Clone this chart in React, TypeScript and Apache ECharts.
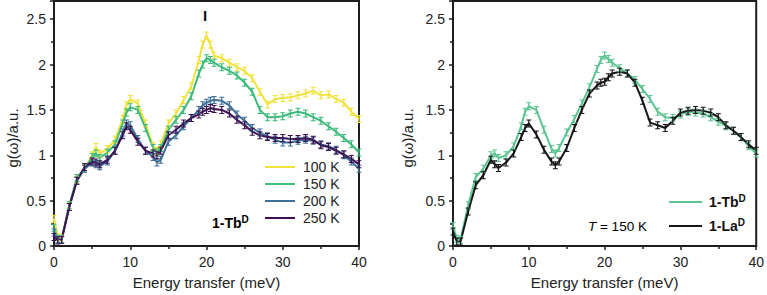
import React, { useEffect, useRef } from "react";
import * as echarts from "echarts";

const energy = [0, 0.5, 1, 2, 3, 4, 5, 5.5, 6, 7, 8, 9, 9.5, 10, 11, 12, 13, 13.5, 14, 15, 16, 17, 18, 19, 19.5, 20, 20.5, 21, 22, 23, 24, 25, 26, 27, 28, 29, 30, 31, 32, 33, 34, 35, 36, 37, 38, 39, 40];

const tb100K = [0.3, 0.1, 0.08, 0.45, 0.73, 0.85, 1.0, 1.09, 1.02, 1.07, 1.17, 1.4, 1.55, 1.62, 1.57, 1.35, 1.1, 1.05, 1.12, 1.35, 1.46, 1.61, 1.76, 2.05, 2.22, 2.32, 2.22, 2.1, 2.07, 2.02, 1.97, 1.93, 1.85, 1.7, 1.56, 1.62, 1.63, 1.64, 1.66, 1.68, 1.71, 1.66, 1.67, 1.62, 1.58, 1.48, 1.4];
const tb150K = [0.2, 0.08, 0.07, 0.45, 0.75, 0.85, 0.98, 1.02, 0.97, 1.03, 1.12, 1.35, 1.47, 1.53, 1.5, 1.3, 1.08, 1.03, 1.08, 1.28, 1.39, 1.5, 1.65, 1.9, 2.0, 2.07, 2.05, 2.02, 1.97, 1.93, 1.88, 1.8, 1.7, 1.5, 1.42, 1.42, 1.43, 1.46, 1.48, 1.46, 1.42, 1.38, 1.32, 1.26, 1.19, 1.12, 1.03];
const tb200K = [0.15, 0.07, 0.07, 0.43, 0.72, 0.85, 0.92, 0.9, 0.88, 0.93, 1.05, 1.25, 1.35, 1.33, 1.18, 1.05, 0.98, 0.92, 0.95, 1.15, 1.22, 1.32, 1.41, 1.5, 1.55, 1.58, 1.6, 1.61, 1.6, 1.55, 1.45, 1.38, 1.3, 1.25, 1.21, 1.17, 1.14, 1.14, 1.16, 1.17, 1.16, 1.12, 1.1, 1.06, 1.0, 0.93, 0.85];
const tb250K = [0.1, 0.06, 0.07, 0.43, 0.72, 0.87, 0.93, 0.92, 0.9, 0.95, 1.05, 1.22, 1.32, 1.28, 1.15, 1.05, 1.02, 1.0, 1.05, 1.22, 1.28, 1.35, 1.41, 1.45, 1.48, 1.5, 1.52, 1.51, 1.5, 1.46, 1.39, 1.33, 1.26, 1.22, 1.2, 1.19, 1.19, 1.18, 1.18, 1.19, 1.17, 1.11, 1.09, 1.05, 1.01, 0.96, 0.9];

const tbAt150K = [0.22, 0.08, 0.07, 0.45, 0.76, 0.85, 1.0, 1.02, 0.97, 1.0, 1.1, 1.32, 1.48, 1.54, 1.5, 1.28, 1.07, 1.02, 1.08, 1.25, 1.4, 1.57, 1.75, 1.95, 2.05, 2.1, 2.06, 2.02, 1.96, 1.9, 1.83, 1.73, 1.62, 1.48, 1.42, 1.41, 1.45, 1.48, 1.47, 1.46, 1.42, 1.37, 1.32, 1.27, 1.2, 1.1, 1.02];
const laAt150K = [0.16, 0.05, 0.05, 0.38, 0.67, 0.78, 0.95, 0.9, 0.86, 0.92, 1.02, 1.2, 1.3, 1.35, 1.23, 1.06, 0.93, 0.89, 0.93, 1.08, 1.3, 1.5, 1.68, 1.77, 1.8, 1.81, 1.86, 1.9, 1.92, 1.9, 1.8, 1.6, 1.36, 1.33, 1.3, 1.38, 1.47, 1.49, 1.5, 1.49, 1.47, 1.42, 1.33, 1.27, 1.2, 1.12, 1.05];

const leftNames = ["100 K", "150 K", "200 K", "250 K"];
const rightNames = ["1-Tb^D", "1-La^D"];
const xTicks = { min: 0, max: 40, interval: 10 };
const yTicks = { min: 0, max: 2.7, interval: 0.5 };

const FONT = "Liberation Sans, Arial, Helvetica, sans-serif";
const AX = "#1e1e1e";
const ERR = "path://M0,0H4V1H2.5V7H4V8H0V7H1.5V1H0Z";

function pairs(ys: number[]) {
  return energy.map((e, i) => [e, ys[i]]);
}

function mkSeries(name: string, ys: number[], color: string, idx: number) {
  return {
    type: "line",
    name,
    xAxisIndex: idx,
    yAxisIndex: idx,
    data: pairs(ys),
    symbol: ERR,
    symbolSize: [5, 8],
    showSymbol: true,
    lineStyle: { color, width: 2 },
    itemStyle: { color },
    z: 3,
  };
}

function xAxis(idx: number) {
  return {
    type: "value",
    gridIndex: idx,
    min: xTicks.min,
    max: xTicks.max,
    interval: xTicks.interval,
    axisLine: { show: true, lineStyle: { color: AX, width: 2 } },
    axisTick: { show: true, length: 4, lineStyle: { color: AX, width: 1.5 } },
    minorTick: { show: true, splitNumber: 2, length: 3, lineStyle: { color: AX, width: 1.5 } },
    splitLine: { show: false },
    axisLabel: { color: "#222", fontFamily: FONT, fontSize: 14, margin: 9 },
    name: "Energy transfer (meV)",
    nameLocation: "middle",
    nameGap: 29,
    nameTextStyle: { color: "#222", fontFamily: FONT, fontSize: 15 },
  };
}

function yAxis(idx: number) {
  return {
    type: "value",
    gridIndex: idx,
    min: yTicks.min,
    max: yTicks.max,
    interval: yTicks.interval,
    axisLine: { show: true, lineStyle: { color: AX, width: 2 } },
    axisTick: { show: true, length: 4, lineStyle: { color: AX, width: 1.5 } },
    minorTick: { show: true, splitNumber: 2, length: 3, lineStyle: { color: AX, width: 1.5 } },
    splitLine: { show: false },
    axisLabel: { color: "#222", fontFamily: FONT, fontSize: 14, margin: 8, showMaxLabel: false },
  };
}

const supRich = {
  b: { fontFamily: FONT, fontSize: 14, fontWeight: "bold", color: "#111" },
  sup: { fontFamily: FONT, fontSize: 10, fontWeight: "bold", color: "#111", verticalAlign: "bottom", padding: [0, 0, 8, 0] },
};

function fmtSup(name: string) {
  const [base, sup] = name.split("^");
  return "{b|" + base + "}{sup|" + sup + "}";
}

export default function App() {
  const ref = useRef<HTMLDivElement>(null);
  useEffect(() => {
    if (!ref.current) return;
    const chart = echarts.init(ref.current, null, { renderer: "svg" });
    const option = {
      animation: false,
      backgroundColor: "#fff",
      grid: [
        { left: 54, top: 1, width: 305, height: 245, show: true, borderColor: AX, borderWidth: 2, backgroundColor: "transparent" },
        { left: 453, top: 1, width: 307, height: 245, show: true, borderColor: AX, borderWidth: 2, backgroundColor: "transparent" },
      ],
      xAxis: [xAxis(0), xAxis(1)],
      yAxis: [yAxis(0), yAxis(1)],
      legend: [
        {
          orient: "vertical",
          left: 265,
          top: 160,
          padding: 0,
          itemGap: 3,
          itemWidth: 30,
          itemHeight: 2,
          icon: "rect",
          data: leftNames,
          textStyle: { fontFamily: FONT, fontSize: 14, color: "#222", padding: [0, 0, 0, 3] },
        },
        {
          orient: "vertical",
          left: 669,
          top: 193,
          padding: 0,
          itemGap: 8,
          itemWidth: 33,
          itemHeight: 2,
          icon: "rect",
          data: rightNames,
          formatter: (n: string) => fmtSup(n),
          textStyle: { padding: [0, 0, 0, 2], rich: supRich },
        },
      ],
      series: [
        mkSeries(leftNames[0], tb100K, "#f1e23c", 0),
        mkSeries(leftNames[1], tb150K, "#3dba7c", 0),
        mkSeries(leftNames[2], tb200K, "#3d6f97", 0),
        mkSeries(leftNames[3], tb250K, "#3b1152", 0),
        mkSeries(rightNames[0], tbAt150K, "#5cc592", 1),
        mkSeries(rightNames[1], laAt150K, "#161616", 1),
      ],
      graphic: [
        {
          type: "text",
          x: 12,
          y: 138,
          rotation: Math.PI / 2,
          style: { text: "g(ω)/a.u.", fontFamily: FONT, fontSize: 15, fill: "#222", align: "center", verticalAlign: "middle" },
        },
        {
          type: "text",
          x: 407,
          y: 138,
          rotation: Math.PI / 2,
          style: { text: "g(ω)/a.u.", fontFamily: FONT, fontSize: 15, fill: "#222", align: "center", verticalAlign: "middle" },
        },
        {
          type: "text",
          x: 205,
          y: 15,
          style: { text: "I", fontFamily: FONT, fontSize: 15, fontWeight: "bold", fill: "#111", align: "center", verticalAlign: "middle" },
        },
        {
          type: "text",
          x: 212,
          y: 223,
          style: { text: fmtSup("1-Tb^D"), rich: supRich, verticalAlign: "middle" },
        },
        {
          type: "text",
          x: 588,
          y: 226,
          style: {
            text: "{i|T}{n| = 150 K}",
            verticalAlign: "middle",
            rich: {
              i: { fontFamily: FONT, fontSize: 13.5, fontStyle: "italic", color: "#222" },
              n: { fontFamily: FONT, fontSize: 13.5, color: "#222" },
            },
          },
        },
      ],
    };
    chart.setOption(option as any);
    return () => chart.dispose();
  }, []);
  return <div ref={ref} style={{ position: "absolute", left: 0, top: 0, width: 767, height: 295 }} />;
}
